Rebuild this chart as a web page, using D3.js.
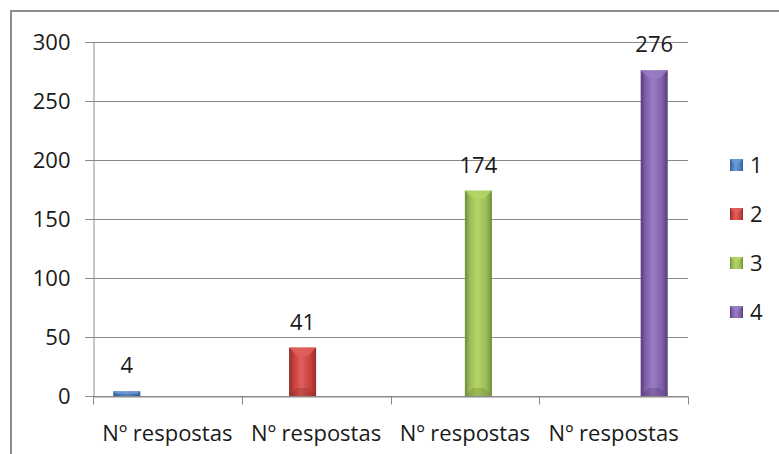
<!DOCTYPE html>
<html>
<head>
<meta charset="utf-8">
<script src="https://cdn.jsdelivr.net/npm/d3@7"></script>
<style>
  body { margin: 0; background: #fff; }
  text { font-family: "Open Sans", sans-serif; fill: #1a1a1a; }
</style>
</head>
<body>
<div id="chart"></div>
<script>
// data
var categories = ['Nº respostas', 'Nº respostas', 'Nº respostas', 'Nº respostas'];
var seriesNames = ['1', '2', '3', '4'];
var seriesValues = [4, 41, 174, 276];   // series i only has a value in category i
var yTicks = [0, 50, 100, 150, 200, 250, 300];
var seriesColors = [
  { light: '#6f9ad4', base: '#4a7ebb', dark: '#2f5b92' },
  { light: '#e0605c', base: '#c7403d', dark: '#922d2b' },
  { light: '#b2d565', base: '#9bbb59', dark: '#6f8a38' },
  { light: '#9a7cc4', base: '#7f5fa8', dark: '#553d78' }
];

var W = 779, H = 454;
var margin = { left: 93, right: W - 688, top: 42, bottom: H - 396 };

var svg = d3.select('#chart').append('svg')
  .attr('width', W)
  .attr('height', H);

// chart frame
svg.append('rect')
  .attr('x', 11).attr('y', 11)
  .attr('width', W).attr('height', H)
  .style('fill', '#fff')
  .style('stroke', '#8c8c8c')
  .style('stroke-width', 2);

var defs = svg.append('defs');
seriesColors.forEach(function(c, i){
  var g = defs.append('linearGradient')
    .attr('id', 'grad' + i)
    .attr('x1', 0).attr('x2', 1).attr('y1', 0).attr('y2', 0);
  g.append('stop').attr('offset', '0%').attr('stop-color', c.dark);
  g.append('stop').attr('offset', '18%').attr('stop-color', c.base);
  g.append('stop').attr('offset', '45%').attr('stop-color', c.light);
  g.append('stop').attr('offset', '80%').attr('stop-color', c.base);
  g.append('stop').attr('offset', '100%').attr('stop-color', c.dark);
});

var x0 = d3.scaleBand()
  .domain(d3.range(categories.length))
  .range([margin.left, W - margin.right]);

// 4 bars per group, gap width 150% -> 0.75 bar on each side
var x1 = d3.scaleBand()
  .domain(d3.range(seriesNames.length))
  .range([0, x0.bandwidth()])
  .paddingOuter(0.75)
  .paddingInner(0);

var y = d3.scaleLinear()
  .domain([0, 300])
  .range([H - margin.bottom, margin.top]);

// gridlines
svg.append('g')
  .selectAll('line')
  .data(yTicks)
  .enter().append('line')
  .attr('x1', margin.left - 8)
  .attr('x2', W - margin.right)
  .attr('y1', function(d){ return Math.round(y(d)) + 0.5; })
  .attr('y2', function(d){ return Math.round(y(d)) + 0.5; })
  .style('stroke', '#8a8a8a')
  .style('stroke-width', 1);

// y axis
var yAxis = svg.append('g')
  .attr('transform', 'translate(' + (margin.left + 0.5) + ',0)')
  .call(d3.axisLeft(y).tickValues(yTicks).tickSize(0).tickPadding(23));
yAxis.select('.domain').style('stroke', '#8a8a8a');
yAxis.selectAll('text')
  .style('font-size', '22px')
  .style('font-family', '"Open Sans", sans-serif')
  .style('fill', '#1a1a1a')
  .attr('dy', '0.36em');

// x axis
var xAxis = svg.append('g')
  .attr('transform', 'translate(0,' + (Math.round(y(0)) + 0.5) + ')')
  .call(d3.axisBottom(x0).tickValues([]).tickSize(0));
xAxis.select('.domain').style('stroke', '#8a8a8a');
xAxis.selectAll('.tk')
  .data(d3.range(categories.length + 1))
  .enter().append('line')
  .attr('class', 'tk')
  .attr('x1', function(d){ return Math.round(margin.left + d * x0.bandwidth()) + 0.5; })
  .attr('x2', function(d){ return Math.round(margin.left + d * x0.bandwidth()) + 0.5; })
  .attr('y1', 0).attr('y2', 8)
  .style('stroke', '#8a8a8a');

svg.append('g')
  .selectAll('text')
  .data(categories)
  .enter().append('text')
  .attr('x', function(d, i){ return x0(i) + x0.bandwidth() / 2; })
  .attr('y', 441)
  .attr('text-anchor', 'middle')
  .style('font-size', '22px')
  .text(function(d){ return d; });

// bars
var bars = svg.append('g')
  .selectAll('g')
  .data(seriesValues)
  .enter().append('g');

bars.append('rect')
  .attr('x', function(d, i){ return x0(i) + x1(i); })
  .attr('y', function(d){ return y(d); })
  .attr('width', x1.bandwidth())
  .attr('height', function(d){ return y(0) - y(d); })
  .style('fill', function(d, i){ return 'url(#grad' + i + ')'; });

// bevel highlight at top, shade at bottom
bars.append('path')
  .attr('d', function(d, i){
    var bx = x0(i) + x1(i), bw = x1.bandwidth(), by = y(d);
    var h = Math.min(bw * 0.3, (y(0) - y(d)) / 2);
    return 'M' + bx + ',' + by + 'L' + (bx + bw) + ',' + by +
      'L' + (bx + bw - h) + ',' + (by + h) + 'L' + (bx + h) + ',' + (by + h) + 'Z';
  })
  .style('fill', function(d, i){ return seriesColors[i].light; })
  .style('opacity', 0.85);

bars.append('path')
  .attr('d', function(d, i){
    var bx = x0(i) + x1(i), bw = x1.bandwidth(), by = y(0);
    var h = Math.min(bw * 0.3, (y(0) - y(d)) / 2);
    return 'M' + bx + ',' + by + 'L' + (bx + bw) + ',' + by +
      'L' + (bx + bw - h) + ',' + (by - h) + 'L' + (bx + h) + ',' + (by - h) + 'Z';
  })
  .style('fill', function(d, i){ return seriesColors[i].dark; })
  .style('opacity', 0.35);

// value labels
bars.append('text')
  .attr('x', function(d, i){ return x0(i) + x1(i) + x1.bandwidth() / 2; })
  .attr('y', function(d){ return y(d) - 18; })
  .attr('text-anchor', 'middle')
  .style('font-size', '22px')
  .text(function(d){ return d; });

// legend
var legend = svg.append('g')
  .selectAll('g')
  .data(seriesNames)
  .enter().append('g')
  .attr('transform', function(d, i){ return 'translate(730,' + (165 + i * 49) + ')'; });

legend.append('rect')
  .attr('x', 0).attr('y', -6)
  .attr('width', 13).attr('height', 12)
  .style('fill', function(d, i){ return 'url(#grad' + i + ')'; });

legend.append('path')
  .attr('d', 'M0,-6L13,-6L6.5,0Z')
  .style('fill', function(d, i){ return seriesColors[i].light; })
  .style('opacity', 0.85);

legend.append('text')
  .attr('x', 20)
  .attr('y', 0)
  .attr('dy', '0.36em')
  .style('font-size', '22px')
  .text(function(d){ return d; });
</script>
</body>
</html>
